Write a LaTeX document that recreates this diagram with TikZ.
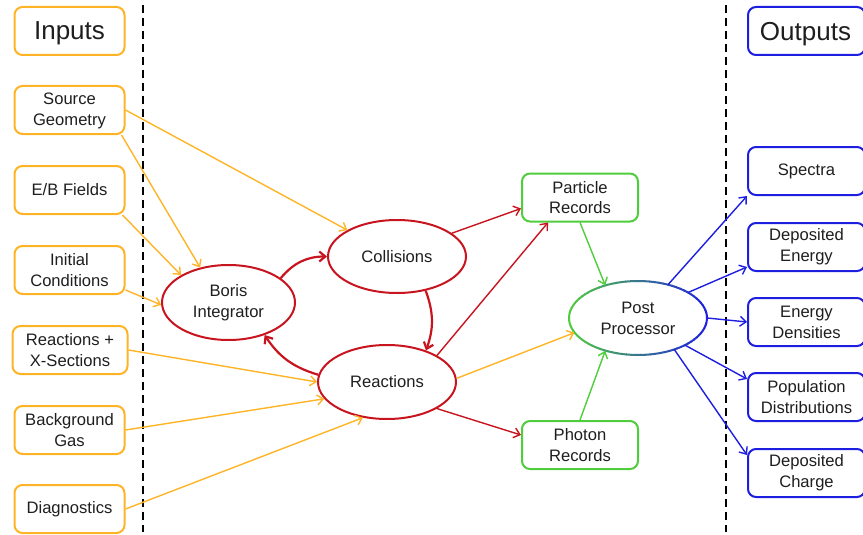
\documentclass[tikz,border=0pt]{standalone}
\usepackage{fontspec}
\setmainfont{Liberation Sans}
\usetikzlibrary{shapes.geometric,arrows.meta,calc}
\definecolor{myorange}{RGB}{255,180,40}
\definecolor{myred}{RGB}{200,20,30}
\definecolor{mygreen}{RGB}{80,205,60}
\definecolor{myblue}{RGB}{30,30,225}
\definecolor{txt}{RGB}{30,30,30}
\tikzset{
  box/.style={rounded corners=8pt, line width=2pt, minimum width=110pt, minimum height=48pt,
    align=center, inner sep=0pt, text=txt, font=\fontsize{16.6}{20.8}\selectfont},
  inbox/.style={box, draw=myorange},
  outbox/.style={box, draw=myblue, minimum width=117pt},
  recbox/.style={box, draw=mygreen, minimum width=116pt},
  titlebox/.style={font=\fontsize{26}{30}\selectfont, text depth=0pt},
  ell/.style={ellipse, draw=myred, line width=2pt, inner sep=0pt, align=center, text=txt,
    font=\fontsize{16.6}{20.8}\selectfont},
  tip/.style={-{Straight Barb[length=6pt,width=10pt]}},
  oarr/.style={tip, draw=myorange, line width=1.4pt},
  rarr/.style={tip, draw=myred, line width=1.4pt},
  rcurve/.style={tip, draw=myred, line width=2.2pt},
  garr/.style={tip, draw=mygreen, line width=1.4pt},
  barr/.style={tip, draw=myblue, line width=1.4pt},
  sep/.style={draw=black, line width=2pt, dash pattern=on 8pt off 5pt},
}
\begin{document}
\begin{tikzpicture}[x=1pt,y=-1pt]
\useasboundingbox (0,0) rectangle (863,535);
\clip (0,0) rectangle (863,535);
% separators
\draw[sep] (143,5) -- (143,532);
\draw[sep] (726,5) -- (726,532);
% inputs
\node[inbox,titlebox] (inp) at (69.5,31) {Inputs};
\node[inbox] (sg) at (69.5,110) {\rule{0pt}{14pt}Source\\Geometry};
\node[inbox] (eb) at (69.5,190) {E/B Fields};
\node[inbox] (ic) at (69.5,270) {Initial\\Conditions};
\node[inbox, minimum width=115pt] (rx) at (70,350) {Reactions +\\X-Sections};
\node[inbox] (bg) at (69.5,430) {Background\\Gas};
\node[inbox] (dg) at (69.5,509) {Diagnostics};
% outputs
\node[outbox,titlebox] (out) at (806.5,31) {\hspace*{-2pt}Outputs};
\node[outbox] (sp) at (806.5,171) {Spectra};
\node[outbox] (de) at (806.5,247) {Deposited\\Energy};
\node[outbox] (ed) at (806.5,322) {Energy\\Densities};
\node[outbox] (pd) at (806.5,397) {Population\\Distributions};
\node[outbox] (dc) at (806.5,473) {Deposited\\Charge};
% ellipses
\node[ell, minimum width=133pt, minimum height=75pt] (boris) at (228.5,302.5) {Boris\\Integrator};
\node[ell, minimum width=138pt, minimum height=73pt] (coll) at (397,256.5) {Collisions};
\node[ell, minimum width=138pt, minimum height=74pt] (reac) at (387,382) {Reactions};
\node[ellipse, minimum width=138pt, minimum height=74pt, inner sep=0pt, align=center, text=txt,
  font=\fontsize{16.6}{20.8}\selectfont] (post) at (638,318) {Post\\Processor};
\foreach \a in {0,4,...,356}{
  \pgfmathtruncatemacro\p{50+50*cos(\a+2)}
  \draw[line width=2pt, color=myblue!\p!mygreen]
    ($(post.center)+({69*cos(\a)},{-37*sin(\a)})$)
    arc[start angle=\a, end angle=\a+4.6, x radius=69pt, y radius=37pt];
}
% records
\node[recbox] (pr) at (580,197.5) {Particle\\Records};
\node[recbox] (ph) at (580,445) {Photon\\Records};
% orange arrows
\draw[oarr] (sg.east) -- (coll.152);
\draw[oarr] ([xshift=-4pt]sg.south east) -- (boris.129);
\draw[oarr] ([xshift=-3pt]eb.south east) -- (boris.150);
\draw[oarr] ([yshift=5pt]ic.south east) -- (boris.182);
\draw[oarr] (rx.east) -- (reac.180);
\draw[oarr] (bg.east) -- (reac.195);
\draw[oarr] (dg.east) -- (reac.236);
\draw[oarr] (reac.3) -- (post.193);
% red arrows
\draw[rcurve] (boris.25) to[bend left=25] (coll.west);
\draw[rcurve] (coll.-50) to[bend left=20] (reac.39);
\draw[rcurve] (reac.174) to[bend left=20] (boris.-42);
\draw[rarr] (coll.23) -- ([yshift=-11pt]pr.west);
\draw[rarr] (reac.28) -- ([xshift=-32pt]pr.south);
\draw[rarr] (reac.-28) -- ([yshift=10pt]ph.west);
% green arrows
\draw[garr] (pr.south) -- (post.135);
\draw[garr] (ph.north) -- (post.225);
% blue arrows
\draw[barr] (post.48) -- (sp.south west);
\draw[barr] (post.27) -- ([yshift=-20pt]de.west);
\draw[barr] (post.east) -- (ed.west);
\draw[barr] (post.-30) -- ([yshift=18pt]pd.west);
\draw[barr] (post.-41) -- ([yshift=18pt]dc.west);
\end{tikzpicture}
\end{document}
